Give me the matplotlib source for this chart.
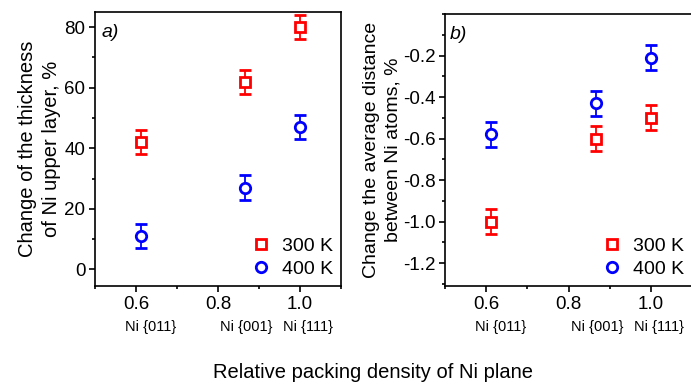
import matplotlib
matplotlib.use("Agg")
import matplotlib.pyplot as plt
from matplotlib.ticker import MultipleLocator

plt.rcParams['font.family'] = ['Liberation Sans', 'DejaVu Sans']

# Data
density = [0.612, 0.866, 1.0]
planes = ["Ni {011}", "Ni {001}", "Ni {111}"]
series = ["300 K", "400 K"]

thick_300 = [42, 62, 80]
thick_300_err = [4, 4, 4]
thick_400 = [11, 27, 47]
thick_400_err = [4, 4, 4]

dist_300 = [-1.0, -0.60, -0.50]
dist_300_err = [0.06, 0.06, 0.06]
dist_400 = [-0.58, -0.43, -0.21]
dist_400_err = [0.06, 0.06, 0.06]

fig = plt.figure(figsize=(6.91, 3.82), dpi=100)
axA = fig.add_axes([95/691, 1-286/382, (341-95)/691, (286-12)/382])
axB = fig.add_axes([445/691, 1-286/382, (692-445)/691, (286-14)/382])

red = '#ff0000'
blue = '#0000ff'

def draw(ax, y3, e3, y4, e4):
    ax.errorbar(density, y3, yerr=e3, fmt='s', ms=6.5, mfc='white', mec=red, mew=2,
                ecolor=red, elinewidth=1.3, capsize=4.5, capthick=1.3, color=red, label=series[0], zorder=3)
    ax.errorbar(density, y4, yerr=e4, fmt='o', ms=7.5, mfc='white', mec=blue, mew=2,
                ecolor=blue, elinewidth=1.3, capsize=4.5, capthick=1.3, color=blue, label=series[1], zorder=3)
    ax.set_xlim(0.5, 1.1)
    ax.xaxis.set_major_locator(MultipleLocator(0.2))
    ax.xaxis.set_minor_locator(MultipleLocator(0.1))
    ax.tick_params(which='both', direction='out', top=False, right=False, labelsize=13.5, width=1.2)
    ax.tick_params(which='major', length=4, pad=3)
    ax.tick_params(which='minor', length=2.5)
    for s in ax.spines.values():
        s.set_linewidth(1.2)
    offs = [7, 1, 6]
    for x, lab, o in zip(density, planes, offs):
        ax.annotate(lab, xy=(x, -0.15), xycoords=ax.get_xaxis_transform(),
                    xytext=(o, 0), textcoords='offset points',
                    ha='center', va='center', fontsize=10.5, annotation_clip=False)
    h, l = ax.get_legend_handles_labels()
    h = [hh[0] for hh in h]
    ax.legend(h, l, loc='lower right', frameon=False, fontsize=14, handlelength=1.0,
              handletextpad=0.6, labelspacing=0.3, borderpad=0.3, borderaxespad=0.1)

draw(axA, thick_300, thick_300_err, thick_400, thick_400_err)
axA.set_ylim(-5.5, 85)
axA.yaxis.set_major_locator(MultipleLocator(20))
axA.yaxis.set_minor_locator(MultipleLocator(10))
axA.set_ylabel("Change of the thickness\nof Ni upper layer, %", fontsize=14.5, linespacing=1.35, labelpad=2)
axA.text(0.025, 0.955, "a)", transform=axA.transAxes, fontsize=14, style='italic', va='top')

draw(axB, dist_300, dist_300_err, dist_400, dist_400_err)
axB.set_ylim(-1.31, 0)
axB.set_yticks([-1.2, -1.0, -0.8, -0.6, -0.4, -0.2])
axB.set_yticklabels(["-1.2", "-1.0", "-0.8", "-0.6", "-0.4", "-0.2"])
axB.yaxis.set_minor_locator(MultipleLocator(0.1))
axB.set_ylabel("Change the average distance\nbetween Ni atoms, %", fontsize=14, linespacing=1.35, labelpad=1)
axB.text(0.02, 0.955, "b)", transform=axB.transAxes, fontsize=14, style='italic', va='top')

fig.text(0.54, 1-372/382, "Relative packing density of Ni plane", ha='center', va='center', fontsize=14.5)

fig.savefig("out.png", dpi=100)
